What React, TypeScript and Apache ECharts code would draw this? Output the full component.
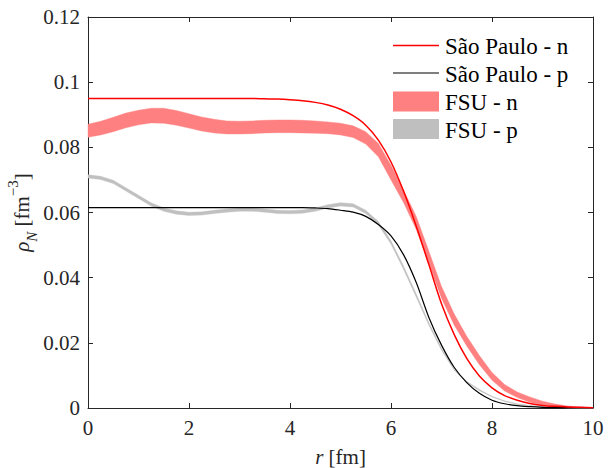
import React, { useEffect, useRef } from "react";
import * as echarts from "echarts";

const rValues = [
  0, 0.25, 0.5, 0.75, 1, 1.25, 1.5, 1.75, 2, 2.25, 2.5, 2.75, 3, 3.25, 3.5, 3.75, 4, 4.25, 4.5, 4.75,
  5, 5.25, 5.5, 5.75, 6, 6.25, 6.5, 6.75, 7, 7.25, 7.5, 7.75, 8, 8.25, 8.5, 8.75, 9, 9.25, 9.5, 9.75, 10,
];

const saoPauloN = [
  0.095, 0.095, 0.095, 0.095, 0.095, 0.095, 0.095, 0.095, 0.095, 0.095, 0.095, 0.095, 0.095, 0.095, 0.0949, 0.0948,
  0.0946, 0.0943, 0.0938, 0.093, 0.0917, 0.0897, 0.0868, 0.0822, 0.0755, 0.0665, 0.0558, 0.044, 0.032, 0.0226,
  0.0152, 0.0098, 0.0062, 0.0038, 0.0024, 0.0014, 0.0008, 0.0005, 0.0003, 0.0002, 0.0001,
];

const saoPauloP = [
  0.0615, 0.0615, 0.0615, 0.0615, 0.0615, 0.0615, 0.0615, 0.0615, 0.0615, 0.0615, 0.0615, 0.0615, 0.0615, 0.0615,
  0.0615, 0.0615, 0.0615, 0.0615, 0.0614, 0.0612, 0.0607, 0.0601, 0.0588, 0.0563, 0.0528, 0.047, 0.0385, 0.0278,
  0.0193, 0.0125, 0.0078, 0.0045, 0.0024, 0.0013, 0.0007, 0.0004, 0.0002, 0.0001, 0.0001, 0, 0,
];

const fsuNLow = [
  0.0831, 0.0838, 0.0848, 0.086, 0.0869, 0.0875, 0.0874, 0.0868, 0.0859, 0.085, 0.0844, 0.0841, 0.0841, 0.0842,
  0.0844, 0.0845, 0.0845, 0.0844, 0.0843, 0.0842, 0.0838, 0.083, 0.081, 0.0771, 0.07, 0.063, 0.0548, 0.0443,
  0.0337, 0.0255, 0.019, 0.0133, 0.0085, 0.0052, 0.0032, 0.0018, 0.0009, 0.0004, 0.0001, 0, 0,
];
const fsuNHigh = [
  0.0871, 0.088, 0.0892, 0.0905, 0.0914, 0.092, 0.092, 0.0913, 0.0903, 0.0893, 0.0886, 0.0881, 0.088, 0.0881,
  0.0883, 0.0884, 0.0884, 0.0883, 0.0881, 0.0878, 0.0874, 0.0866, 0.0848, 0.0812, 0.0745, 0.0668, 0.0588, 0.0481,
  0.0373, 0.0289, 0.022, 0.0161, 0.0109, 0.0072, 0.0049, 0.0034, 0.0021, 0.0012, 0.0006, 0.0003, 0.0001,
];

const fsuPLow = [
  0.0706, 0.0701, 0.0689, 0.0666, 0.0643, 0.062, 0.0604, 0.0595, 0.0591, 0.0592, 0.0597, 0.0601, 0.0604, 0.0604,
  0.0601, 0.0597, 0.0596, 0.0598, 0.0604, 0.0614, 0.062, 0.0617, 0.0597, 0.0562, 0.0503, 0.0425, 0.034, 0.0254,
  0.0177, 0.0116, 0.0078, 0.0053, 0.0034, 0.002, 0.0011, 0.0006, 0.0003, 0.0002, 0.0001, 0, 0,
];
const fsuPHigh = [
  0.0716, 0.0711, 0.0699, 0.0676, 0.0653, 0.063, 0.0614, 0.0605, 0.0601, 0.0602, 0.0607, 0.0611, 0.0614, 0.0614,
  0.0611, 0.0607, 0.0606, 0.0608, 0.0614, 0.0624, 0.063, 0.0627, 0.0607, 0.0572, 0.0513, 0.0435, 0.035, 0.0262,
  0.0183, 0.012, 0.0082, 0.0057, 0.0036, 0.0022, 0.0013, 0.0008, 0.0005, 0.0003, 0.0001, 0, 0,
];

const xTicks = { min: 0, max: 10, interval: 2 };
const yTicks = { min: 0, max: 0.12, interval: 0.02 };

const legendItems = [
  { name: "São Paulo - n", kind: "line", color: "#ff0000" },
  { name: "São Paulo - p", kind: "line", color: "#000000" },
  { name: "FSU - n", kind: "rect", color: "#ff8080" },
  { name: "FSU - p", kind: "rect", color: "#bfbfbf" },
];

const FONT = "Liberation Serif";
const AXIS_COLOR = "#262626";

export default function App() {
  const ref = useRef<HTMLDivElement>(null);

  useEffect(() => {
    if (!ref.current) return;
    const chart = echarts.init(ref.current, undefined, { renderer: "svg" });

    const pairs = (ys: number[]) => rValues.map((r, i) => [r, ys[i]]);

    const bandSeries = (name: string, lo: number[], hi: number[], color: string, z: number) => ({
      name,
      type: "custom",
      data: rValues.map((r, i) => [r, lo[i], hi[i]]),
      encode: { x: 0, y: [1, 2] },
      silent: true,
      z,
      renderItem: (params: any, api: any) => {
        if (params.dataIndex !== 0) return null;
        const upper = rValues.map((r, i) => api.coord([r, hi[i]]));
        const lower = rValues.map((r, i) => api.coord([r, lo[i]])).reverse();
        return {
          type: "polygon",
          shape: { points: upper.concat(lower) },
          style: { fill: color, stroke: color, lineWidth: 0.4 },
        };
      },
    });

    const axisCommon = {
      axisLine: { show: true, onZero: false, lineStyle: { color: AXIS_COLOR, width: 1 } },
      axisTick: { show: true, inside: true, length: 5, lineStyle: { color: AXIS_COLOR, width: 1 } },
      splitLine: { show: false },
    };

    const legendGraphics: any[] = [];
    const rowY = [45.5, 73, 101.5, 129];
    legendItems.forEach((it, i) => {
      const y = rowY[i];
      if (it.kind === "line") {
        legendGraphics.push({
          type: "line",
          z: 100,
          shape: { x1: 393, y1: y, x2: 439, y2: y },
          style: { stroke: it.color, lineWidth: it.color === "#ff0000" ? 1.5 : 1.2 },
        });
      } else {
        legendGraphics.push({
          type: "rect",
          z: 100,
          shape: { x: 393, y: y - 10, width: 46, height: 20 },
          style: { fill: it.color },
        });
      }
      legendGraphics.push({
        type: "text",
        z: 100,
        x: 445,
        y: y + 1,
        style: {
          text: it.name,
          fontFamily: FONT,
          fontSize: 23,
          fill: "#000",
          verticalAlign: "middle",
          align: "left",
        },
      });
    });

    chart.setOption({
      animation: false,
      backgroundColor: "#fff",
      textStyle: { fontFamily: FONT },
      grid: { left: 88, right: 20, top: 17, bottom: 60, containLabel: false, outerBoundsMode: "none" },
      xAxis: [
        {
          type: "value",
          ...xTicks,
          position: "bottom",
          ...axisCommon,
          axisLabel: { show: true, margin: 9, fontSize: 21, fontFamily: FONT, color: AXIS_COLOR },
          name: "{it|r} [fm]",
          nameLocation: "middle",
          nameGap: 38,
          nameMoveOverlap: false,
          nameTextStyle: {
            fontFamily: FONT,
            fontSize: 21,
            color: AXIS_COLOR,
            rich: { it: { fontFamily: FONT, fontSize: 21, fontStyle: "italic", color: AXIS_COLOR } },
          },
        },
        {
          type: "value",
          ...xTicks,
          position: "top",
          ...axisCommon,
          axisLabel: { show: false },
        },
      ],
      yAxis: [
        {
          type: "value",
          ...yTicks,
          position: "left",
          ...axisCommon,
          axisLabel: {
            show: true,
            margin: 8,
            fontSize: 21,
            fontFamily: FONT,
            color: AXIS_COLOR,
            formatter: (v: number) => String(parseFloat(v.toFixed(2))),
          },
          name: "{it|ρ}{sub|N} [fm{sup|−3}]",
          nameLocation: "middle",
          nameGap: 49,
          nameMoveOverlap: false,
          nameTextStyle: {
            fontFamily: FONT,
            fontSize: 21,
            color: AXIS_COLOR,
            rich: {
              it: { fontFamily: FONT, fontSize: 21, fontStyle: "italic", color: AXIS_COLOR },
              sub: { fontFamily: FONT, fontSize: 15, fontStyle: "italic", color: AXIS_COLOR, verticalAlign: "bottom", lineHeight: 14 },
              sup: { fontFamily: FONT, fontSize: 15, color: AXIS_COLOR, verticalAlign: "top", lineHeight: 34 },
            },
          },
        },
        {
          type: "value",
          ...yTicks,
          position: "right",
          ...axisCommon,
          axisLabel: { show: false },
        },
      ],
      series: [
        bandSeries("FSU - n", fsuNLow, fsuNHigh, "#ff8080", 1),
        bandSeries("FSU - p", fsuPLow, fsuPHigh, "#c0c0c0", 2),
        {
          name: "São Paulo - p",
          type: "line",
          data: pairs(saoPauloP),
          smooth: 0.3,
          showSymbol: false,
          symbol: "none",
          lineStyle: { color: "#000000", width: 1.2 },
          silent: true,
          z: 3,
        },
        {
          name: "São Paulo - n",
          type: "line",
          data: pairs(saoPauloN),
          smooth: 0.3,
          showSymbol: false,
          symbol: "none",
          lineStyle: { color: "#ff0000", width: 1.5 },
          silent: true,
          z: 4,
        },
      ],
      graphic: legendGraphics,
    });

    return () => chart.dispose();
  }, []);

  return <div ref={ref} style={{ position: "fixed", left: 0, top: 0, width: 613, height: 468 }} />;
}
